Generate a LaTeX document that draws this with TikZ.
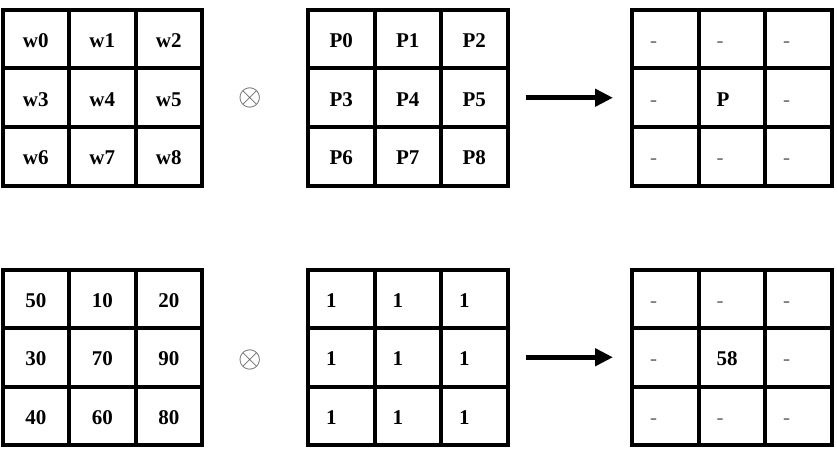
\documentclass[tikz,border=0pt]{standalone}
\usepackage{fontspec}
\setmainfont{Liberation Serif}
\usetikzlibrary{arrows.meta,positioning}
\definecolor{inkgray}{HTML}{7A7A7A}
\definecolor{opgray}{HTML}{555555}
\newcommand\dashmark{\textcolor{inkgray}{-}}

\begin{document}
\begin{tikzpicture}[x=1pt,y=-1pt,
  every node/.style={font=\fontsize{21}{25}\selectfont\bfseries},
  cell/.style={draw=black,line width=4pt,minimum width=66.5pt,minimum height=58.5pt,inner sep=0pt,text height=17pt,text depth=0pt},
  lcell/.style={cell,inner xsep=18pt,text width=30.5pt,align=left},
  op/.style={text=opgray,inner sep=0pt},
  arr/.style={-{Triangle[length=18pt,width=17pt]},line width=5pt,shorten <=16pt,shorten >=17pt}]
  \useasboundingbox (0,0) rectangle (837,457);
  % top row: weights, pixels, output
  \foreach \txt [count=\i from 0] in {w0,w1,w2,w3,w4,w5,w6,w7,w8}{
    \pgfmathtruncatemacro\c{mod(\i,3)}\pgfmathtruncatemacro\r{div(\i,3)}
    \node[cell] (w-\i) at (2.5+\c*66.5+33.25,10+\r*58.5+29.25) {\txt};}
  \foreach \txt [count=\i from 0] in {P0,P1,P2,P3,P4,P5,P6,P7,P8}{
    \pgfmathtruncatemacro\c{mod(\i,3)}\pgfmathtruncatemacro\r{div(\i,3)}
    \node[cell] (p-\i) at (308+\c*66.5+33.25,10+\r*58.5+29.25) {\txt};}
  \foreach \txt [count=\i from 0] in {\dashmark,\dashmark,\dashmark,\dashmark,P,\dashmark,\dashmark,\dashmark,\dashmark}{
    \pgfmathtruncatemacro\c{mod(\i,3)}\pgfmathtruncatemacro\r{div(\i,3)}
    \node[lcell] (out-\i) at (632+\c*66.5+33.25,10+\r*58.5+29.25) {\txt};}
  \node[op] (op1) at (250,98) {\scalebox{1.45}{$\otimes$}};
  \draw[arr] (p-5.east) -- (out-3.west);
  % bottom row: image, kernel, result
  \foreach \txt [count=\i from 0] in {50,10,20,30,70,90,40,60,80}{
    \pgfmathtruncatemacro\c{mod(\i,3)}\pgfmathtruncatemacro\r{div(\i,3)}
    \node[cell] (img-\i) at (2.5+\c*66.5+33.25,269.5+\r*58.5+29.25) {\txt};}
  \foreach \txt [count=\i from 0] in {1,1,1,1,1,1,1,1,1}{
    \pgfmathtruncatemacro\c{mod(\i,3)}\pgfmathtruncatemacro\r{div(\i,3)}
    \node[lcell] (ker-\i) at (308+\c*66.5+33.25,269.5+\r*58.5+29.25) {\txt};}
  \foreach \txt [count=\i from 0] in {\dashmark,\dashmark,\dashmark,\dashmark,58,\dashmark,\dashmark,\dashmark,\dashmark}{
    \pgfmathtruncatemacro\c{mod(\i,3)}\pgfmathtruncatemacro\r{div(\i,3)}
    \node[lcell] (res-\i) at (632+\c*66.5+33.25,269.5+\r*58.5+29.25) {\txt};}
  \node[op] (op2) at (250,360) {\scalebox{1.45}{$\otimes$}};
  \draw[arr] (ker-5.east) -- (res-3.west);
\end{tikzpicture}
\end{document}
